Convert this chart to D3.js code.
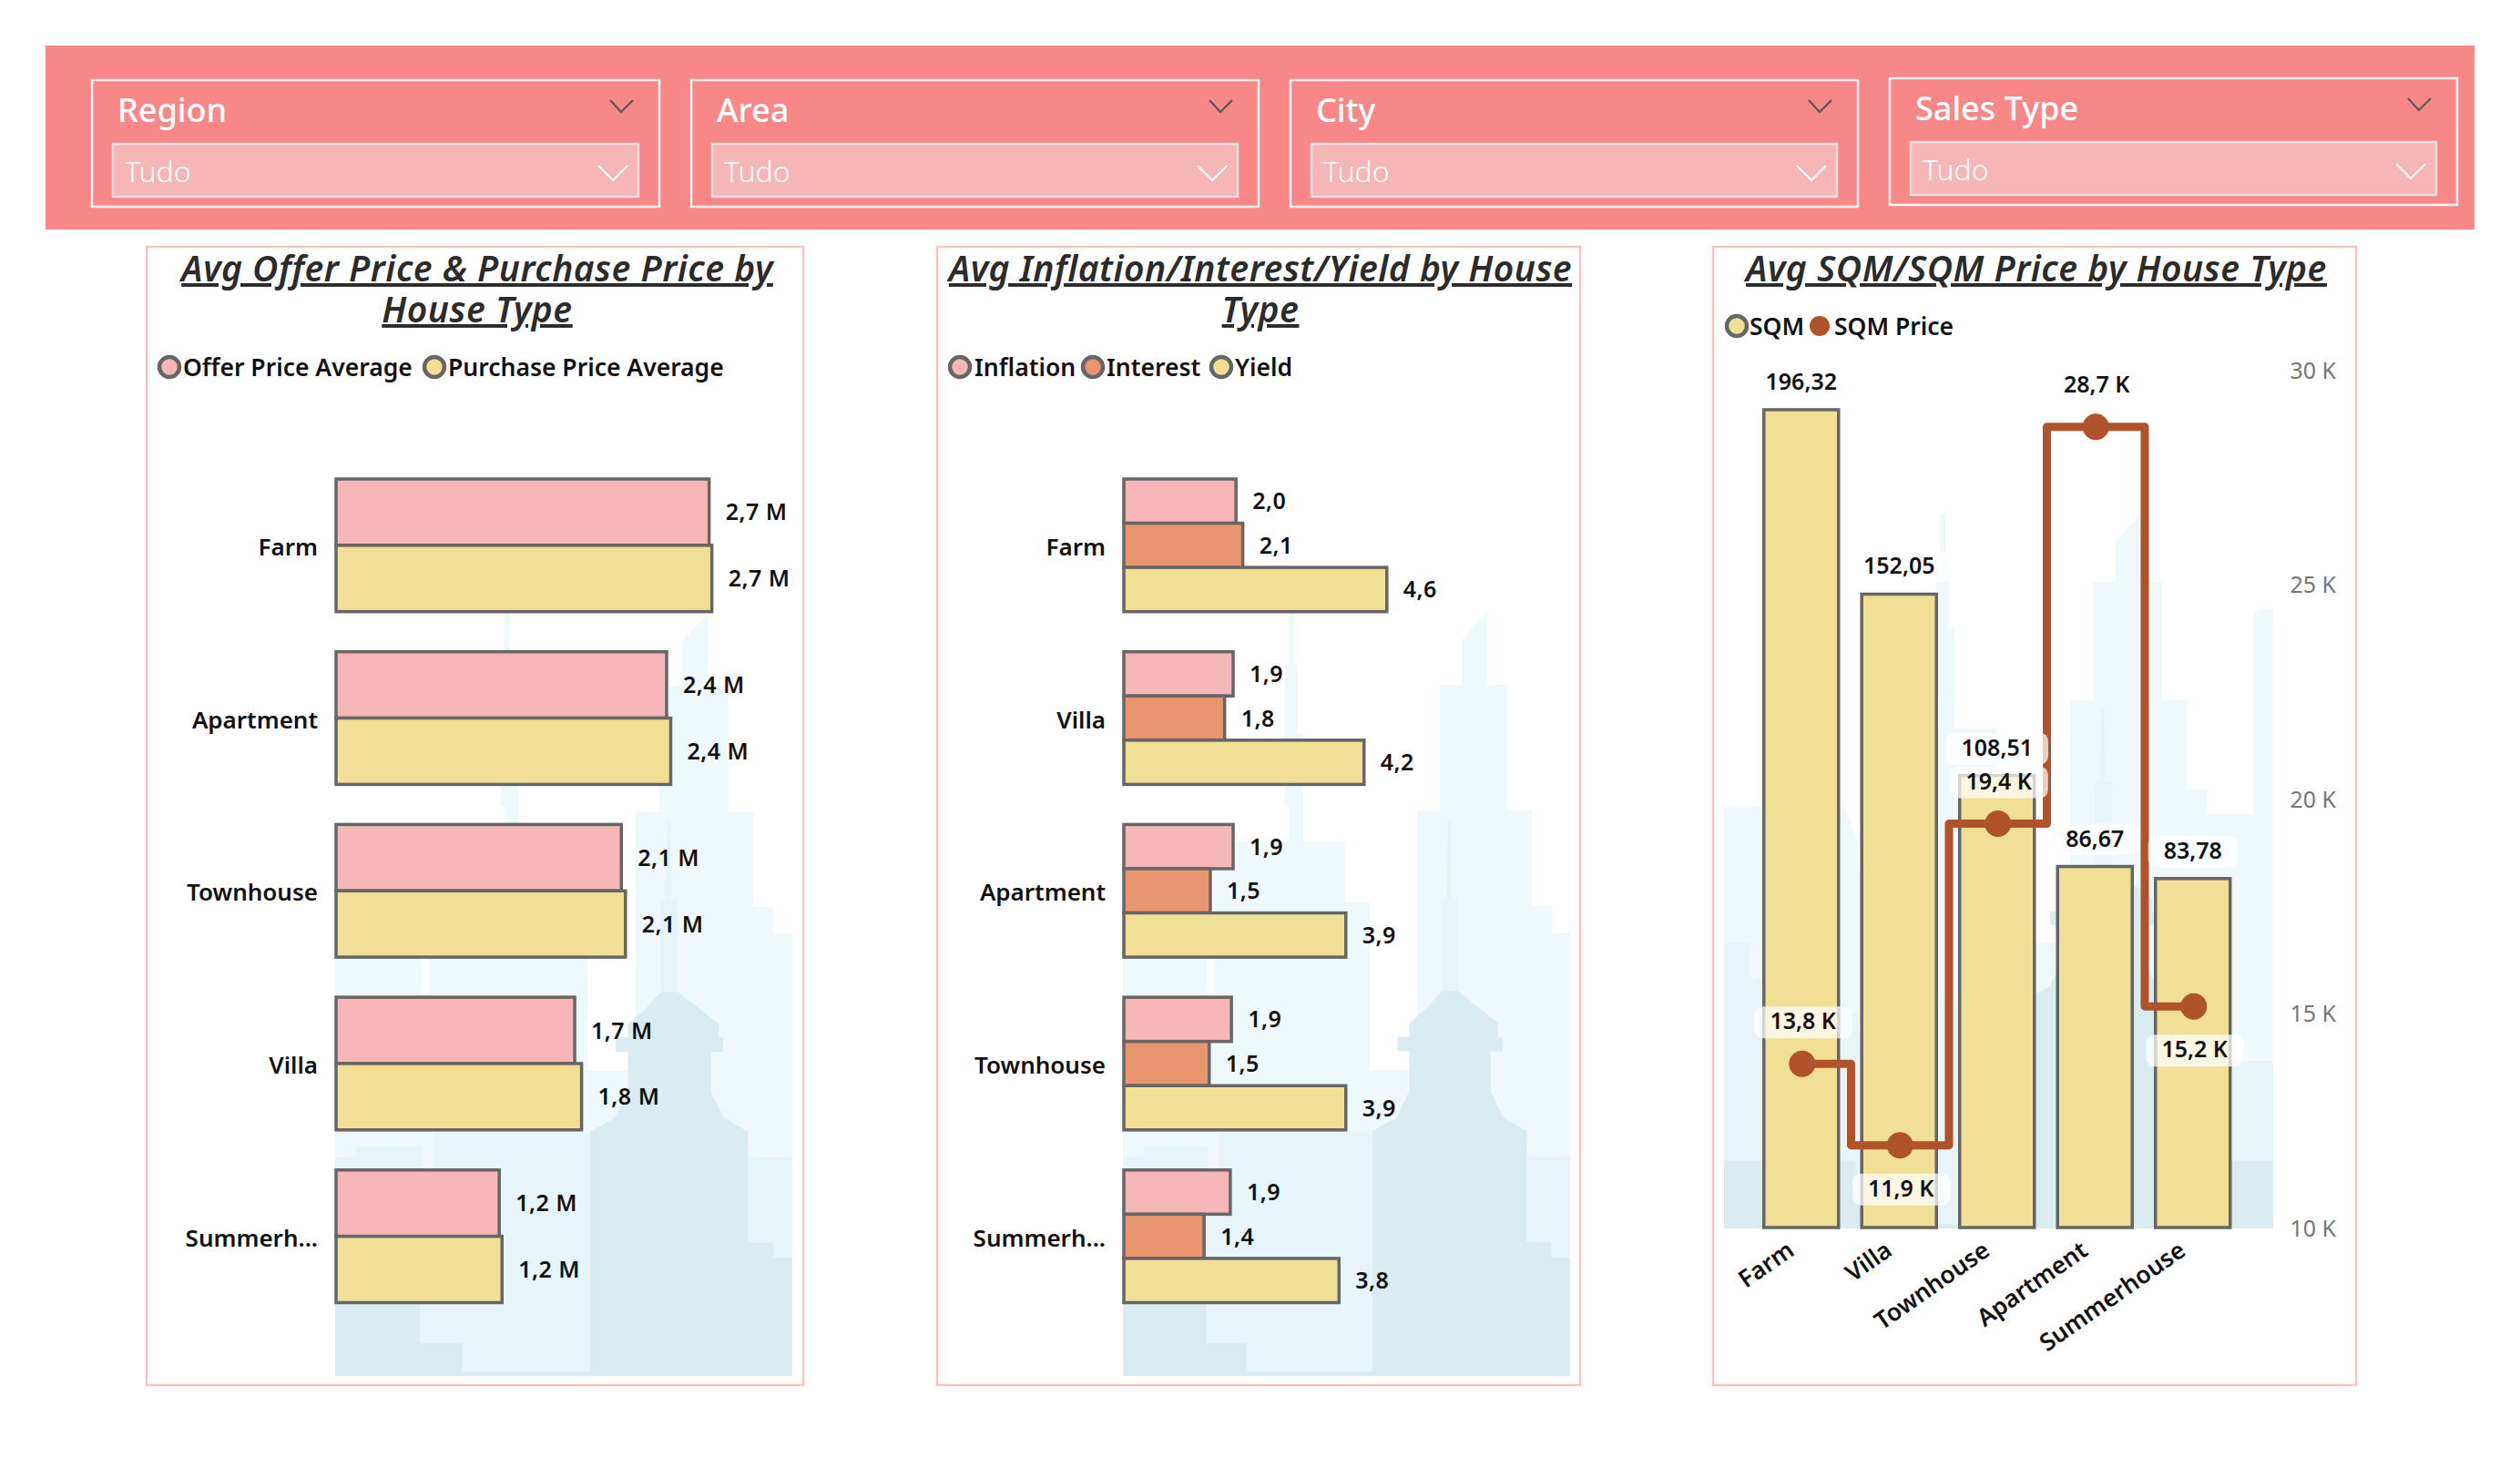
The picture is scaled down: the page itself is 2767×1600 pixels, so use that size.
<!DOCTYPE html>
<html>
<head>
<meta charset="utf-8">
<script src="https://cdn.jsdelivr.net/npm/d3@7"></script>
<style>
body{margin:0;background:#fff;}
text{font-family:"Noto Sans",sans-serif;}
</style>
</head>
<body>
<svg id="chart" width="2767" height="1600"></svg>
<script>
// slicers
var slicerNames = ["Region","Area","City","Sales Type"];
var slicerValue = "Tudo";

// panel 1
var offerCats = ["Farm","Apartment","Townhouse","Villa","Summerh..."];
var offerPrice = [2.72,2.41,2.08,1.74,1.19];
var purchasePrice = [2.74,2.44,2.11,1.79,1.21];

// panel 2
var rateCats = ["Farm","Villa","Apartment","Townhouse","Summerh..."];
var inflation = [1.97,1.92,1.92,1.89,1.87];
var interest = [2.09,1.77,1.52,1.5,1.41];
var yieldRate = [4.62,4.22,3.9,3.9,3.78];

// panel 3
var sqmCats = ["Farm","Villa","Townhouse","Apartment","Summerhouse"];
var sqm = [196.32,152.05,108.51,86.67,83.78];
var sqmPrice = [13840,11940,19440,28700,15180];
var priceLabelSide = ["above","below","above","above","below"];
var priceTicks = [10000,15000,20000,25000,30000];

// skyline behind the plots, in 0-1 image units
var skyBack = [
    [[0,.41],[.22,.41],[.244,.46],[.244,.5],[.256,.5],[.256,.3],[.393,.3],[.393,.252],[.386,.252],[.386,.07],[.393,.07],[.393,0],[.403,0],[.403,.07],[.409,.07],[.409,.16],[.42,.16],[.42,.3],[.497,.3],[.497,.38],[.543,.38],[.543,.6],[.63,.6],[.63,.26],[.673,.26],[.673,.095],[.713,.095],[.713,.037],[.76,0],[.76,.095],[.797,.095],[.797,.26],[.842,.26],[.842,.385],[.88,.385],[.88,.42],[.964,.42],[.964,.137],[1,.13],[1,.8],[0,.8]]
];
var skyMid = [
    [[0,.6],[.047,.6],[.047,.65],[.087,.65],[.087,.713],[.125,.713],[.125,.699],[.244,.699],[.244,.73],[.265,.73],[.265,.68],[.56,.68],[.56,.713],[.913,.713],[.913,.765],[1,.765],[1,1],[0,1]],
    [[.688,.272],[.692,.272],[.694,.374],[.706,.374],[.706,.5],[.676,.5],[.676,.374],[.684,.374]]
];
var skyDark = [
    [[.646,.52],[.676,.496],[.706,.496],[.78,.538],[.78,.556],[.788,.556],[.788,.575],[.766,.575],[.766,.627],[.79,.662],[.833,.679],[.833,.825],[.878,.825],[.878,.845],[.913,.845],[.913,.905],[1,.905],[1,1],[0,1],[0,.905],[.24,.905],[.24,.957],[.316,.957],[.316,.994],[.548,.994],[.548,.679],[.592,.662],[.616,.627],[.616,.575],[.594,.575],[.594,.556],[.616,.556],[.616,.538]]
];

var pink = "#f7b6b8", yellow = "#f0df95", orange = "#e89570", brown = "#b0522a";
var barStroke = "#666666";

var svg = d3.select("#chart");

var makeTranslateString = function(x,y)
{
    return "translate("+x+","+y+")";
}

var drawSlicers = function()
{
    svg.append("rect")
    .attr("x",50).attr("y",50).attr("width",2667).attr("height",202)
    .attr("fill","#f88888");

    var slicers = svg.selectAll(".slicer")
    .data(slicerNames)
    .enter()
    .append("g")
    .attr("class","slicer")
    .attr("transform",function(d,i){return makeTranslateString(101+i*658,i==3?86:88)});

    slicers.append("rect")
    .attr("width",623).attr("height",139)
    .attr("fill","none").attr("stroke","#fdf0f0").attr("stroke-width",2.5);

    slicers.append("text")
    .attr("x",28).attr("y",46)
    .attr("font-size",36).attr("fill","#fff").attr("font-weight",500)
    .text(function(d){return d});

    slicers.append("path")
    .attr("d","M569,22 L581,35 L594,22")
    .attr("fill","none").attr("stroke","#555").attr("stroke-width",2);

    slicers.append("rect")
    .attr("x",23).attr("y",70).attr("width",577).attr("height",58)
    .attr("fill","#f6b6b6").attr("stroke","#e4e0e0").attr("stroke-width",2.5);

    slicers.append("text")
    .attr("x",36).attr("y",112)
    .attr("font-size",32).attr("fill","#fff").attr("font-weight",300)
    .text(slicerValue);

    slicers.append("path")
    .attr("d","M556,94 L572,110 L588,94")
    .attr("fill","none").attr("stroke","#fff").attr("stroke-width",2);
}

var drawSkyline = function(id,x0,x1,y0,y1,uFrom,uTo)
{
    var uScale = d3.scaleLinear().domain([uFrom,uTo]).range([x0,x1]);
    var vScale = d3.scaleLinear().domain([0,1]).range([y0,y1]);
    var line = d3.line().x(function(d){return uScale(d[0])}).y(function(d){return vScale(d[1])});

    svg.append("clipPath").attr("id","clip"+id)
    .append("rect").attr("x",x0).attr("y",y0).attr("width",x1-x0).attr("height",y1-y0);

    var g = svg.append("g").attr("clip-path","url(#clip"+id+")");
    [[skyBack,"#eff8fa"],[skyMid,"#e6f5f7"],[skyDark,"#d9edf1"]].forEach(function(layer)
    {
        g.selectAll(null)
        .data(layer[0])
        .enter()
        .append("path")
        .attr("d",function(d){return line(d)+"Z"})
        .attr("fill",layer[1]);
    });
}

var drawPanel = function(x0,x1,titleLines,titleX)
{
    svg.append("rect")
    .attr("x",x0).attr("y",271).attr("width",x1-x0).attr("height",1250)
    .attr("fill","none").attr("stroke","#fbc4c4").attr("stroke-width",2.5);

    // one text with a tspan per line, the title wraps like the reference
    var title = svg.append("text")
    .attr("text-anchor","middle")
    .attr("font-size",39).attr("font-style","italic").attr("font-weight",600)
    .attr("letter-spacing",.5)
    .attr("fill","#2b2b2b").attr("text-decoration","underline");

    title.selectAll("tspan")
    .data(titleLines)
    .enter()
    .append("tspan")
    .attr("x",titleX)
    .attr("y",function(d,i){return 309+i*45})
    .text(function(d){return d});
}

var drawLegend = function(items,y)
{
    var g = svg.append("g");
    items.forEach(function(item)
    {
        g.append("circle")
        .attr("cx",item.cx).attr("cy",y).attr("r",11)
        .attr("fill",item.color)
        .attr("stroke",item.solid?"none":barStroke).attr("stroke-width",4.5);
        g.append("text")
        .attr("x",item.tx).attr("y",y+10)
        .attr("font-size",26.5).attr("font-weight",600).attr("fill","#111")
        .text(item.name);
    });
}

var drawHBars = function(cats,series,colors,x0,xMax,width,labelX,fmt)
{
    var xScale = d3.scaleLinear().domain([0,xMax]).range([0,width]);
    var yScale = d3.scaleBand().domain(cats).range([504,1452.5]).paddingInner(.232).paddingOuter(.116);
    var inner = d3.scaleBand().domain(d3.range(series.length)).range([0,yScale.bandwidth()]);

    var target = svg.append("g").attr("transform",makeTranslateString(x0,0));

    series.forEach(function(values,s)
    {
        target.selectAll(null)
        .data(values)
        .enter()
        .append("rect")
        .attr("x",0)
        .attr("y",function(d,i){return yScale(cats[i])+inner(s)})
        .attr("width",function(d){return xScale(d)})
        .attr("height",inner.bandwidth())
        .attr("fill",colors[s])
        .attr("stroke",barStroke).attr("stroke-width",3.5);

        target.selectAll(null)
        .data(values)
        .enter()
        .append("text")
        .attr("x",function(d){return xScale(d)+18})
        .attr("y",function(d,i){return yScale(cats[i])+inner(s)+inner.bandwidth()/2+9})
        .attr("font-size",25).attr("font-weight",600).attr("fill","#111")
        .attr("letter-spacing",.5)
        .text(fmt);
    });

    svg.selectAll(null)
    .data(cats)
    .enter()
    .append("text")
    .attr("x",labelX)
    .attr("y",function(d){return yScale(d)+yScale.bandwidth()/2+11})
    .attr("text-anchor","end")
    .attr("font-size",26).attr("font-weight",600).attr("fill","#111")
    .text(function(d){return d});
}

var commaFormat = function(v,digits)
{
    return v.toFixed(digits).replace(".",",");
}

var labelWithBack = function(g,x,y,txt)
{
    var lab = g.append("g");
    var back = lab.append("rect").attr("fill","#fff").attr("fill-opacity",.72).attr("rx",9);
    var t = lab.append("text")
    .attr("x",x).attr("y",y)
    .attr("text-anchor","middle")
    .attr("font-size",25).attr("font-weight",600).attr("fill","#111")
    .text(txt);
    var box = t.node().getBBox();
    back.attr("x",box.x-17).attr("y",y-25).attr("width",box.width+34).attr("height",35);
}

var drawCombo = function()
{
    var xScale = d3.scaleBand().domain(sqmCats).range([1924,2461.5]).paddingInner(.237).paddingOuter(.1185);
    var yBars = d3.scaleLinear().domain([0,205.6]).range([1348,407.5]);
    var yPrice = d3.scaleLinear().domain([10000,30000]).range([1349,407.5]);

    svg.selectAll(null)
    .data(sqm)
    .enter()
    .append("rect")
    .attr("x",function(d,i){return xScale(sqmCats[i])})
    .attr("y",function(d){return yBars(d)})
    .attr("width",xScale.bandwidth())
    .attr("height",function(d){return yBars(0)-yBars(d)})
    .attr("fill",yellow)
    .attr("stroke",barStroke).attr("stroke-width",3.5);

    var centre = function(i){return xScale(sqmCats[i])+xScale.bandwidth()/2};

    var priceLine = d3.line()
    .x(function(d,i){return centre(i)+1})
    .y(function(d){return yPrice(d)})
    .curve(d3.curveStep);

    svg.append("path")
    .attr("d",priceLine(sqmPrice))
    .attr("fill","none").attr("stroke",brown).attr("stroke-width",9).attr("stroke-linejoin","round");

    svg.selectAll(null)
    .data(sqmPrice)
    .enter()
    .append("circle")
    .attr("cx",function(d,i){return centre(i)+1})
    .attr("cy",function(d){return yPrice(d)})
    .attr("r",14.5)
    .attr("fill",brown);

    var labels = svg.append("g");
    sqm.forEach(function(d,i)
    {
        labelWithBack(labels,centre(i),yBars(d)-22,commaFormat(d,2));
    });
    sqmPrice.forEach(function(d,i)
    {
        var y = yPrice(d)+(priceLabelSide[i]=="above"?-38:56);
        labelWithBack(labels,centre(i)+2,y,commaFormat(d/1000,1)+" K");
    });

    var axis = d3.axisRight(yPrice)
    .tickValues(priceTicks)
    .tickSize(0)
    .tickFormat(function(d){return (d/1000)+" K"});

    var axisG = svg.append("g")
    .attr("transform",makeTranslateString(2565,0))
    .call(axis);
    axisG.select(".domain").remove();
    axisG.selectAll("text")
    .attr("x",0)
    .attr("text-anchor","end")
    .attr("font-size",25).attr("fill","#777")
    .attr("font-family","'Noto Sans',sans-serif");

    svg.selectAll(null)
    .data(sqmCats)
    .enter()
    .append("text")
    .attr("transform",function(d,i){return makeTranslateString(centre(i)-6,1377)+" rotate(-35)"})
    .attr("text-anchor","end")
    .attr("font-size",26.5).attr("font-weight",600).attr("fill","#111")
    .text(function(d){return d});
}

drawSlicers();

drawSkyline("a",368,870,674,1511,.087,.913);
drawSkyline("b",1233,1724,672,1511,.087,.913);
drawSkyline("c",1893,2496,565,1349,0,1);

drawPanel(161,882,["Avg Offer Price & Purchase Price by","House Type"],524);
drawPanel(1029,1735,["Avg Inflation/Interest/Yield by House","Type"],1384);
drawPanel(1881,2587,["Avg SQM/SQM Price by House Type"],2236);

drawLegend([
    {name:"Offer Price Average",color:pink,cx:186,tx:201},
    {name:"Purchase Price Average",color:yellow,cx:477,tx:492}
],403);
drawLegend([
    {name:"Inflation",color:pink,cx:1054,tx:1070},
    {name:"Interest",color:orange,cx:1200,tx:1215},
    {name:"Yield",color:yellow,cx:1341,tx:1356}
],403);
drawLegend([
    {name:"SQM",color:yellow,cx:1907,tx:1921},
    {name:"SQM Price",color:brown,cx:1998,tx:2014,solid:true}
],358);

drawHBars(offerCats,[offerPrice,purchasePrice],[pink,yellow],369,3.33,501.5,349,function(d){return commaFormat(d,1)+" M"});
drawHBars(rateCats,[inflation,interest,yieldRate],[pink,orange,yellow],1234,7.84,490,1214,function(d){return commaFormat(d,1)});
drawCombo();
</script>
</body>
</html>
